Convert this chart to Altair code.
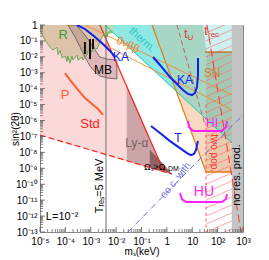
import math
import altair as alt
import pandas as pd

FONT = "Liberation Sans"
W, H = 203, 207

# ---- axis ticks / labels (log10 units) ----
x_ticks = list(range(-5, 4))
x_labels = ['10⁻⁵', '10⁻⁴', '10⁻³', '10⁻²', '10⁻¹', '1', '10', '10²', '10³']
y_ticks = list(range(-13, 1))
y_labels = ['10⁻¹³', '10⁻¹²', '10⁻¹¹', '10⁻¹⁰', '10⁻⁹', '10⁻⁸', '10⁻⁷',
            '10⁻⁶', '10⁻⁵', '10⁻⁴', '10⁻³', '10⁻²', '10⁻¹', '1']

# ---- regions: (log10 m_s [keV], log10 sin^2(2theta)) ----
std_region = [(-5, 0), (-2.64, 0), (-0.11, -9.23), (-5, -6.91)]
lya_region = [(-1.57, -3.87), (-0.11, -9.23), (-1.57, -8.54)]
omega_region = [(-0.665, -7.85), (0.20, -9.36), (-0.665, -8.92)]
r_boundary = [(-5, -0.31), (-4.80, -0.94), (-4.61, -1.38), (-4.49, -1.57), (-4.33, -1.40),
              (-4.29, -1.85), (-4.21, -1.60), (-4.13, -2.05), (-4.01, -1.95), (-3.94, -2.30),
              (-3.90, -1.95), (-3.82, -2.40), (-3.74, -1.95), (-3.70, -2.20), (-3.54, -1.90),
              (-3.50, -2.20), (-3.34, -2.01), (-3.31, -2.20), (-3.15, -1.88), (-3.11, -1.57),
              (-2.95, -1.70), (-2.91, -1.38), (-2.75, -1.51), (-2.64, -1.07), (-2.56, -0.75),
              (-2.52, -0.63), (-2.36, -0.75), (-2.32, -0.44), (-2.16, -0.44)]
r_region = r_boundary + [(-2.16, 0), (-5, 0)]
mb_region = [(-3.58, 0), (-3.23, -0.63), (-3.03, -1.07), (-2.83, -1.57), (-2.64, -2.01),
             (-2.36, -2.14), (-1.97, -2.20), (-1.97, -3.39), (-2.32, -3.33), (-2.64, -3.20),
             (-2.83, -2.95), (-3.03, -2.58), (-3.23, -2.01), (-3.42, -1.38), (-3.66, -0.63),
             (-3.90, 0)]
green_box = [(-2.64, 0), (-2.12, 0), (-2.12, -0.50), (-2.52, -0.69)]
peach_region = [(-0.586, 0), (2.567, 0), (2.567, -9.23), (1.542, -9.23)]
therm_region = [(-2.438, 0), (-0.586, 0), (0.37, -4.16)]
overlap_region = [(-0.586, 0), (2.567, 0), (2.567, -7.41), (0.37, -4.16)]
topright_region = [(1.424, 0), (2.567, 0), (2.567, -1.70), (1.581, -1.70)]
sn_region = [(1.581, -1.70), (2.567, -1.70), (2.567, -9.23), (1.542, -9.23)]
nores_region = [(2.567, 0), (3, 0), (3, -13), (2.567, -13)]

# ---- lines ----
std_edge = [(-2.64, 0), (-0.11, -9.23)]
std_bottom = [(-5, -6.91), (0.20, -9.36)]
therm_edge = [(-2.438, 0), (2.567, -7.41)]
steep_orange = [(-0.586, 0), (1.542, -9.23)]
dbeta_upper = [(-3.227, 0), (2.567, -4.40)]
dbeta_lower = [(-2.833, -0.94), (2.567, -5.34)]
sn_top = [(1.50, -1.70), (2.567, -1.70)]
sn_bottom = [(1.542, -9.23), (2.567, -9.23)]
tu_line = [(0.399, 0), (1.502, -6.28)]
trec_line = [(1.581, 0), (2.921, -13)]
twopop_line = [(1.542, -5.0), (1.542, -13)]
tres_line = [(-2.40, 0), (-2.40, -13)]
noc_line = [(-1.532, -13), (3, -5.65)]

ka_low_m = [(-3.54, 0), (-3.23, -0.25), (-2.83, -0.75), (-2.52, -1.19), (-2.24, -1.63), (-2.04, -2.01)]
ka_high_m = [(-0.547, -2.01), (-0.271, -2.51), (0.123, -3.27), (0.399, -3.71), (0.635, -4.08),
             (0.833, -4.33), (0.990, -4.40), (1.108, -4.27), (1.187, -3.89), (1.227, -3.14),
             (1.227, -2.07)]
t_curve = [(-0.626, -6.34), (-0.271, -6.78), (0.123, -7.29), (0.517, -7.73), (0.793, -8.04),
           (0.951, -8.17), (1.069, -8.10), (1.148, -7.85), (1.187, -7.54), (1.227, -7.29)]
p_curve = [(-4.015, -3.02), (-3.818, -3.45), (-3.502, -4.08), (-3.227, -4.59), (-2.951, -4.96),
           (-2.714, -5.28), (-2.517, -5.65)]
hi_bracket = [(0.833, -6.03), (0.872, -6.41), (1.030, -6.66), (2.172, -6.66), (2.330, -6.41),
              (2.369, -6.03)]
hu_bracket = [(0.517, -10.55), (0.596, -10.93), (0.754, -11.12), (2.172, -11.12), (2.330, -10.93),
              (2.369, -10.62)]
bars = [[(-3.23, -1.07), (-3.23, -1.82)], [(-3.03, -0.88), (-3.03, -2.14)],
        [(-2.91, -0.88), (-2.91, -1.51)]]

# hatch pattern offsets for the hatched (t_rec / two pop.) band
hatch_offsets = [c / 2 for c in range(-28, 2)]

xs = alt.Scale(domain=[-5, 3], nice=False, zero=False)
ys = alt.Scale(domain=[-13, 0], nice=False, zero=False)
x_expr = "[" + ",".join("'%s'" % s for s in x_labels) + "][datum.value + 5]"
y_expr = "[" + ",".join("'%s'" % s for s in y_labels) + "][datum.value + 13]"
xaxis = alt.Axis(values=x_ticks, labelExpr=x_expr, ticks=False, domain=False, grid=False,
                 labelFont=FONT, labelFontSize=10, labelColor='black', labelPadding=4,
                 labelFlush=False, labelOverlap=False, title='mₛ(keV)', titleFont=FONT,
                 titleFontSize=10, titleFontWeight='normal', titleColor='black', titlePadding=0)
yaxis = alt.Axis(values=y_ticks, labelExpr=y_expr, ticks=False, domain=False, grid=False,
                 labelFont=FONT, labelFontSize=10, labelColor='black', labelPadding=3,
                 labelFlush=False, labelOverlap=False, title='sin²(2θ)', titleFont=FONT,
                 titleFontSize=10, titleFontWeight='normal', titleColor='black',
                 titleX=-25, titleBaseline='middle')
X = alt.X('x:Q', scale=xs, axis=xaxis)
Y = alt.Y('y:Q', scale=ys, axis=yaxis)


def df_of(points):
    return pd.DataFrame({'x': [p[0] for p in points], 'y': [p[1] for p in points],
                         'i': list(range(len(points)))})


def poly(points, fill, opacity=1.0, stroke=None, sw=0.5):
    pts = points + [points[0]]
    return alt.Chart(df_of(pts)).mark_line(
        fill=fill, fillOpacity=opacity, stroke=stroke or fill, strokeWidth=sw,
        strokeOpacity=1.0 if stroke else opacity, clip=True
    ).encode(X, Y, order='i:Q')


def line(points, color, width=1.0, dash=None, opacity=1.0):
    kw = dict(color=color, strokeWidth=width, clip=True, opacity=opacity)
    if dash:
        kw['strokeDash'] = dash
    return alt.Chart(df_of(points)).mark_line(**kw).encode(X, Y, order='i:Q')


def label(text, x, y, color, size, angle=0, **kw):
    return alt.Chart(pd.DataFrame({'x': [x], 'y': [y], 't': [text]})).mark_text(
        color=color, fontSize=size, angle=angle, font=FONT, **kw
    ).encode(X, Y, text='t:N')


layers = [
    poly(std_region, '#fcd9d9'),
    poly(r_region, '#dcc3aa'),
    poly(lya_region, '#cba5a7'),
    poly(omega_region, '#8e6262'),
    poly(peach_region, '#f7dabf'),
    poly(therm_region, '#8ee8e3'),
    poly(overlap_region, '#a7d6c5'),
    poly(topright_region, '#cdf1ef'),
    poly(sn_region, '#a07050', opacity=0.15),
    poly(green_box, '#bcdcae'),
    poly(mb_region, '#9a6a6a', opacity=0.30, stroke='#555555', sw=0.8),
]

hatch_rows = []
for g, c in enumerate(hatch_offsets):
    hatch_rows.append({'x': 1.542, 'y': c, 'g': g, 'i': 0})
    hatch_rows.append({'x': 2.567, 'y': c + 0.70, 'g': g, 'i': 1})
layers.append(alt.Chart(pd.DataFrame(hatch_rows)).mark_line(
    color='#ff5a5a', strokeWidth=0.7, opacity=0.75, clip=True
).encode(X, Y, detail='g:N', order='i:Q'))

layers += [
    poly(nores_region, '#c4c4c4'),
    line(std_edge, '#ff2020', 1.2),
    line(std_bottom, '#ff2020', 1.2, dash=[6, 3]),
    line(therm_edge, '#22c4c0', 1.0),
    line(steep_orange, '#e0801a', 1.2),
    line(dbeta_upper, '#f08a30', 0.9),
    line(dbeta_lower, '#f08a30', 0.9),
    line(sn_top, '#c07a30', 1.5),
    line(sn_bottom, '#e07a10', 1.5),
    line(tu_line, '#c86060', 1.0, dash=[5, 3]),
    line(trec_line, '#ff3030', 1.0, dash=[8, 4]),
    line(twopop_line, '#ff5050', 1.0, dash=[3, 3]),
    line(tres_line, '#707070', 1.0),
    line(noc_line, '#6a6ae0', 1.0, dash=[6, 2, 1, 2]),
    line(r_boundary, '#4aa040', 0.8),
    line(p_curve, '#ff6030', 2.0),
    line(ka_low_m, '#1022e8', 2.0),
    line(ka_high_m, '#1022e8', 2.0),
    line(t_curve, '#1022e8', 2.0),
    line(hi_bracket, '#ff22ff', 2.0),
    line(hu_bracket, '#ff22ff', 2.0),
]
for b in bars:
    layers.append(line(b, '#101010', 2.0))

layers += [
    label('R', -4.09, -0.63, '#3a9a3a', 13),
    label('MB', -2.52, -2.83, 'black', 12),
    label('KA', -1.81, -2.01, '#1022e8', 12),
    label('KA', 0.71, -3.45, '#1022e8', 12),
    label('P', -4.01, -4.40, '#ff6030', 13),
    label('Std', -3.03, -6.22, '#ff2020', 13),
    label('Ly-α', -1.18, -7.41, '#7a6262', 12),
    label('Ωₛ>Ω', -0.05, -8.90, 'black', 9, align='right'),
    label('DM', 0.04, -9.03, 'black', 7, align='left'),
    label('T', 0.44, -7.10, '#1022e8', 12),
    label('therm.', -0.98, -0.94, '#30c6c6', 11, angle=42),
    label('0νββ', -1.53, -1.26, '#f08020', 11, angle=25),
    label('t', 0.75, -0.57, '#e03030', 12),
    label('U', 0.93, -0.82, '#e03030', 8),
    label('t', 1.54, -0.38, '#e03030', 12),
    label('rec', 1.84, -0.60, '#e03030', 8),
    label('SN', 1.78, -3.02, '#d08030', 12),
    label('HI', 1.78, -6.15, '#ff22ff', 12),
    label('HU', 1.46, -10.49, '#ff22ff', 14),
    label('two pop.', 1.84, -8.05, '#ff3030', 10, angle=90),
    label('no c. with', 0.34, -9.75, '#7070e0', 10, angle=308),
    label('L=10⁻²', -4.13, -12.06, 'black', 11),
    label('Tᵣₑₛ=5 MeV', -2.64, -10.11, 'black', 11, angle=270),
    label('no res. prod.', 2.78, -9.42, 'black', 11, angle=270),
]

# inward minor/major tick marks
x_minor = [n + math.log10(k) for n in range(-5, 3) for k in range(2, 10)]
y_minor = [n + math.log10(k) for n in range(-13, 0) for k in range(2, 10)]
layers += [
    alt.Chart(pd.DataFrame({'x': x_minor})).mark_rule(color='#555555', strokeWidth=0.7).encode(
        X, y=alt.value(H), y2=alt.value(H - 3)),
    alt.Chart(pd.DataFrame({'x': x_ticks})).mark_rule(color='#555555', strokeWidth=0.8).encode(
        X, y=alt.value(H), y2=alt.value(H - 5)),
    alt.Chart(pd.DataFrame({'y': y_minor})).mark_rule(color='#555555', strokeWidth=0.7).encode(
        Y, x=alt.value(0), x2=alt.value(3)),
    alt.Chart(pd.DataFrame({'y': y_ticks})).mark_rule(color='#555555', strokeWidth=0.8).encode(
        Y, x=alt.value(0), x2=alt.value(5)),
]

chart = alt.layer(*layers).properties(
    width=W, height=H,
    padding={'left': 32, 'top': 17, 'right': 18, 'bottom': 28},
    autosize=alt.AutoSizeParams(type='none'),
    background='white',
).configure_view(stroke='#888888', strokeWidth=1)

chart.save("out.html", embed_options={"renderer": "svg", "actions": False})
